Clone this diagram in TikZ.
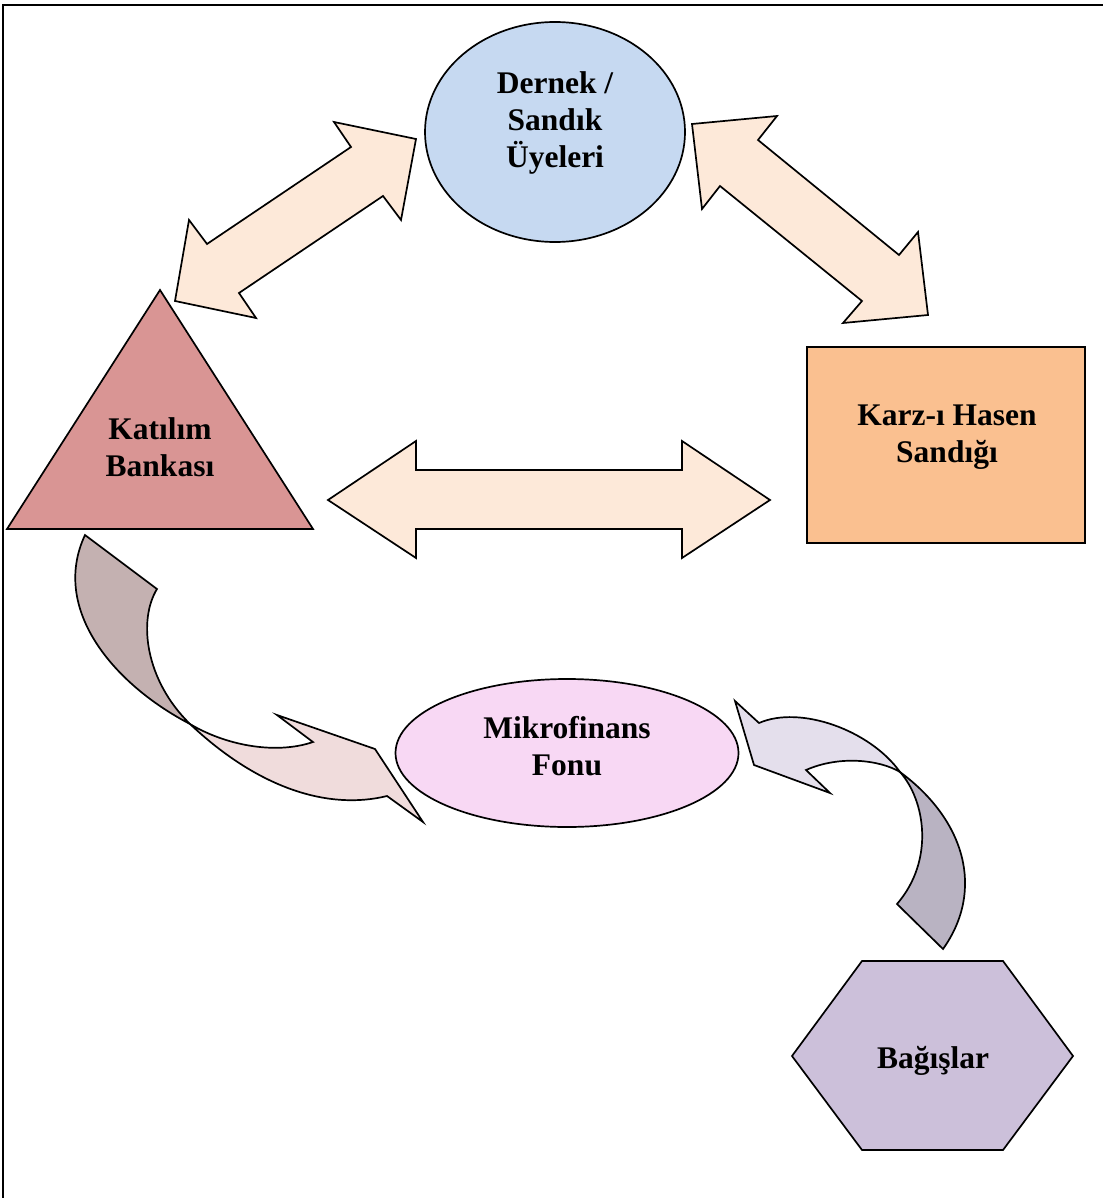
\documentclass[tikz,border=0pt]{standalone}
\usepackage{fontspec}
\setmainfont{Liberation Serif}
\usetikzlibrary{shapes.geometric}
\definecolor{cBlue}{RGB}{198,217,241}
\definecolor{cTri}{RGB}{217,149,148}
\definecolor{cRect}{RGB}{250,192,144}
\definecolor{cArrow}{RGB}{253,233,217}
\definecolor{cPink}{RGB}{248,216,244}
\definecolor{cHex}{RGB}{204,192,218}
\definecolor{cLDark}{RGB}{196,177,177}
\definecolor{cLLight}{RGB}{240,220,220}
\definecolor{cRDark}{RGB}{185,179,194}
\definecolor{cRLight}{RGB}{228,223,236}
\begin{document}
\begin{tikzpicture}[x=1pt,y=-1pt,
  outl/.style={draw=black,line width=1.7pt,line join=miter},
  lbl/.style={font=\bfseries\fontsize{31.5}{37}\selectfont,align=center,inner sep=0pt}]
\useasboundingbox (0,0) rectangle (1103,1198);
\fill[white] (0,0) rectangle (1103,1198);
\draw[line width=1.7pt] (3,1198) -- (3,5) -- (1103,5);

% shapes
\node[outl,ellipse,fill=cBlue,minimum width=260pt,minimum height=220pt,inner sep=0pt] (dernek) at (555,132) {};
\draw[outl,fill=cTri] (160,290) -- (313,529) -- (7,529) -- cycle;
\node[outl,rectangle,fill=cRect,minimum width=278pt,minimum height=196pt,inner sep=0pt] (karz) at (946,445) {};
\node[outl,ellipse,fill=cPink,minimum width=343pt,minimum height=148pt,inner sep=0pt] (mikro) at (567,753) {};
\draw[outl,fill=cHex] (862,961) -- (1003,961) -- (1073,1056) -- (1003,1150) -- (862,1150) -- (792,1056) -- cycle;

% straight double arrows
\draw[outl,fill=cArrow] (416,139) -- (334,122) -- (351,147) -- (207,244) -- (189,220) -- (175,301)
  -- (256,318) -- (239,293) -- (383,196) -- (401,220) -- cycle;
\draw[outl,fill=cArrow] (692,124) -- (777,116) -- (758,140) -- (899,255) -- (918,232) -- (928,315)
  -- (843,323) -- (862,301) -- (720,186) -- (702,209) -- cycle;
\draw[outl,fill=cArrow] (328,500) -- (416,441) -- (416,470) -- (682,470) -- (682,441) -- (770,500)
  -- (682,558) -- (682,529) -- (416,529) -- (416,558) -- cycle;

% curved arrow: Katilim -> Mikrofinans
\draw[outl,fill=cLDark] (85,535) -- (157,589) .. controls (138,620) and (145,680) .. (190,724)
  .. controls (115,685) and (50,610) .. (85,535) -- cycle;
\draw[outl,fill=cLLight] (190,724) .. controls (225,745) and (275,755) .. (313,742) -- (277,715)
  -- (375,749) -- (423,822) -- (387,796) .. controls (330,810) and (260,790) .. (190,724) -- cycle;

% curved arrow: Bagislar -> Mikrofinans
\draw[outl,fill=cRDark] (897,904) -- (943,949) .. controls (985,890) and (965,820) .. (900,772)
  .. controls (925,800) and (935,860) .. (897,904) -- cycle;
\draw[outl,fill=cRLight] (900,772) .. controls (870,730) and (800,705) .. (759,723) -- (735,701)
  -- (754,765) -- (830,793) -- (806,770) .. controls (840,755) and (880,760) .. (900,772) -- cycle;

% labels
\node[lbl] (tDernek) at (555,123) {Dernek /\\Sandık\\Üyeleri};
\node[lbl] (tKatilim) at (160,447) {Katılım\\Bankası};
\node[lbl] (tKarz) at (947,437) {Karz-ı Hasen\\Sandığı};
\node[lbl] (tMikro) at (567,746) {Mikrofinans\\Fonu};
\node[lbl,anchor=base] (tBagis) at (933,1068) {Bağışlar};
\end{tikzpicture}
\end{document}
